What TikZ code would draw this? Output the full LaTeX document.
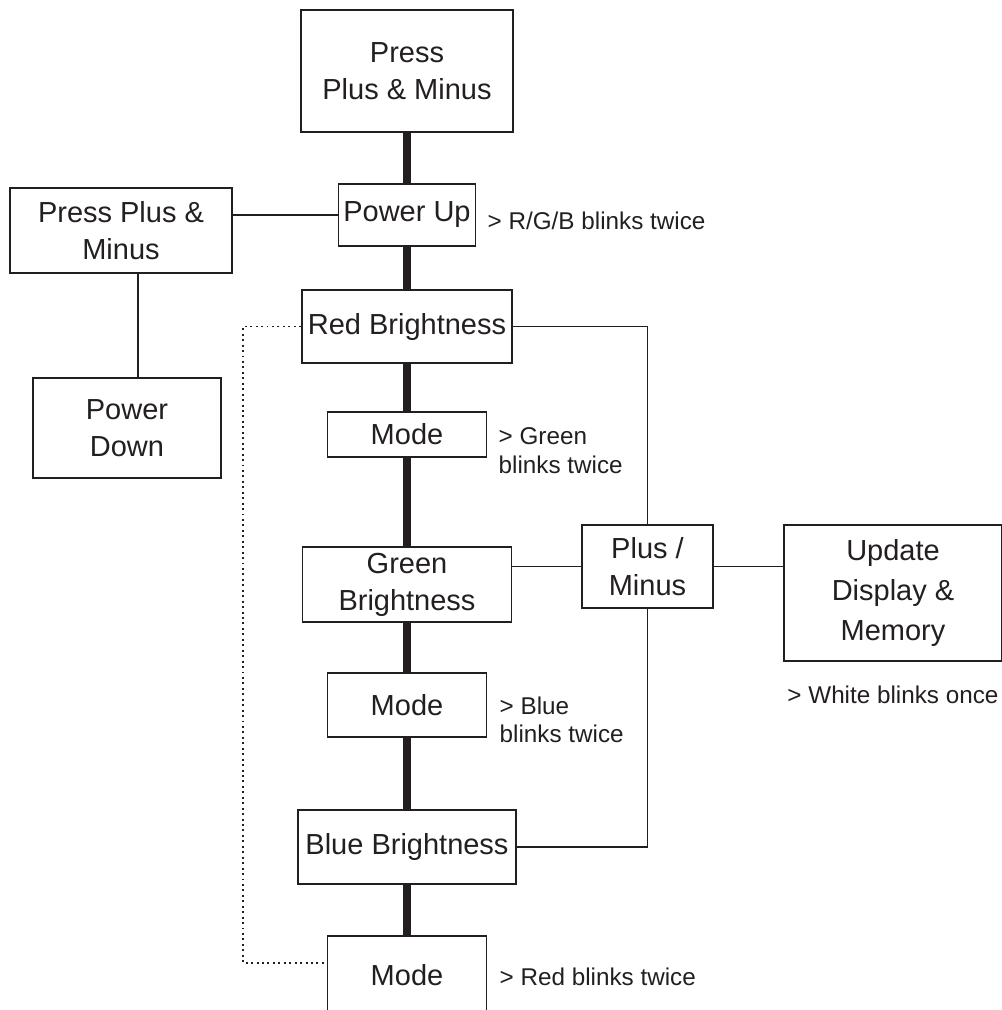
\documentclass[tikz,border=0pt]{standalone}
\usepackage{fontspec}
\setmainfont{Liberation Sans}
\usetikzlibrary{positioning}
\definecolor{ink}{HTML}{231F20}
\tikzset{
  box/.style={draw=ink,line width=1pt,align=center,inner sep=0pt,text=ink,
    font=\fontsize{16.5}{21}\selectfont},
  note/.style={on grid=false,align=left,inner sep=0pt,text=ink,
    font=\fontsize{13.8}{16.4}\selectfont},
  spine/.style={draw=ink,line width=4pt},
  link/.style={draw=ink,line width=1.1pt},
  loopline/.style={draw=ink,line width=1.1pt,dotted}
}
\begin{document}
\begin{tikzpicture}[on grid,node distance=2cm]
  \useasboundingbox (0,0) rectangle (20.02,-20.2);
  % main chain
  \node[box,minimum width=4.24cm,minimum height=2.44cm] (start) at (8.14,-1.42) {Press\\Plus \& Minus};
  \node[box,minimum width=2.74cm,minimum height=1.24cm] (pwrup) [below=2.88cm of start] {Power Up};
  \node[box,minimum width=4.2cm,minimum height=1.46cm] (red) [below=2.23cm of pwrup] {Red Brightness};
  \node[box,minimum width=3.18cm,minimum height=0.9cm] (togreen) [below=2.16cm of red] {Mode};
  \node[box,minimum width=4.18cm,minimum height=1.5cm] (green) [below=3cm of togreen] {Green\\Brightness};
  \node[box,minimum width=3.18cm,minimum height=1.28cm] (toblue) [below=2.41cm of green] {Mode};
  \node[box,minimum width=4.36cm,minimum height=1.48cm] (blue) [below=2.84cm of toblue] {Blue Brightness};
  \node[box,minimum width=3.18cm,minimum height=1.58cm] (tored) [below=2.57cm of blue] {Mode};
  % power down branch
  \node[box,minimum width=4.44cm,minimum height=1.7cm] (pressoff) [below left=0.31cm and 5.72cm of pwrup] {Press Plus \&\\Minus};
  \node[box,minimum width=3.76cm,minimum height=2cm] (pwrdown) [below right=3.95cm and 0.12cm of pressoff] {Power\\Down};
  % plus / minus branch
  \node[box,minimum width=2.62cm,minimum height=1.66cm] (plusminus) [above right=0.36cm and 4.81cm of green] {Plus /\\Minus};
  \node[box,minimum width=4.36cm,minimum height=2.72cm,
    font=\fontsize{16.5}{23}\selectfont] (update) [below right=0.53cm and 4.91cm of plusminus] {Update\\Display \&\\Memory};
  % notes
  \node[note] (nrgb) [right=0.22cm of pwrup.east,yshift=-0.12cm] {> R/G/B blinks twice};
  \node[note] (ngreen) [below right=0.32cm and 0.22cm of togreen.north east] {> Green\\blinks twice};
  \node[note] (nblue) [below right=0.48cm and 0.24cm of toblue.north east] {> Blue\\blinks twice};
  \node[note] (nred) [right=0.24cm of tored.east,yshift=-0.02cm] {> Red blinks twice};
  \node[note] (nwhite) [below right=0.48cm and 0.08cm of update.south west] {> White blinks once};
  \coordinate (loop) at (4.86,-19.26);

  \draw[spine] (start) -- (pwrup);
  \draw[spine] (pwrup) -- (red);
  \draw[spine] (red) -- (togreen);
  \draw[spine] (togreen) -- (green);
  \draw[spine] (green) -- (toblue);
  \draw[spine] (toblue) -- (blue);
  \draw[spine] (blue) -- (tored);

  \draw[link] (pressoff.east |- pwrup.west) -- (pwrup.west);
  \draw[link] ([xshift=0.34cm]pressoff.south) -- ([xshift=0.34cm]pressoff.south |- pwrdown.north);
  \draw[link] (red.east) -| (plusminus.north);
  \draw[link] (green.east |- plusminus.west) -- (plusminus.west);
  \draw[link] (plusminus.east) -- (plusminus.east -| update.west);
  \draw[link] (plusminus.south) |- (blue.east);
  \draw[loopline] (red.west) -| (loop) -- (loop -| tored.west);
\end{tikzpicture}
\end{document}
